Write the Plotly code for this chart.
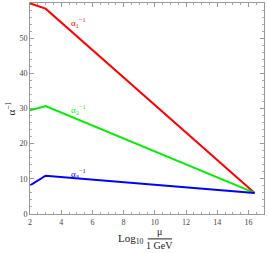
import plotly.graph_objects as go

log_mu = [2, 3, 16.4]
alpha1_inv = [59.9, 58.4, 6.0]
alpha2_inv = [29.5, 30.7, 6.0]
alpha3_inv = [8.1, 10.9, 6.0]
labels = ["α<sub>1</sub><sup>−1</sup>", "α<sub>2</sub><sup>−1</sup>", "α<sub>3</sub><sup>−1</sup>"]
label_pos = [(5.1, 54.5), (5.1, 29.8), (5.1, 11.6)]
colors = ["#ff0000", "#00ee00", "#0000ff"]

fig = go.Figure()
for ys, c in zip([alpha1_inv, alpha2_inv, alpha3_inv], colors):
    fig.add_trace(go.Scatter(x=log_mu, y=ys, mode="lines", line=dict(color=c, width=2), showlegend=False))

for (lx, ly), t, c in zip(label_pos, labels, colors):
    fig.add_annotation(x=lx, y=ly, text=t, showarrow=False, font=dict(color=c, size=9, family="Liberation Serif"))

axis_common = dict(
    showgrid=False, zeroline=False, showline=True, linecolor="#999999", linewidth=1,
    mirror="allticks", ticks="inside", ticklen=4, tickcolor="#999999", automargin=False,
    tickfont=dict(size=8, color="#444444", family="Liberation Serif"),
)
fig.update_xaxes(range=[2, 17], tickvals=[2, 4, 6, 8, 10, 12, 14, 16],
                 minor=dict(dtick=0.5, tick0=0, ticklen=2, tickcolor="#aaaaaa", ticks="inside"),
                 **axis_common)
fig.update_yaxes(range=[0, 60], tickvals=[0, 10, 20, 30, 40, 50, 60],
                 minor=dict(dtick=2, tick0=0, ticklen=2, tickcolor="#aaaaaa", ticks="inside"),
                 **axis_common)

# y-axis title
fig.add_annotation(xref="paper", yref="paper", x=-0.085, y=0.5, text="α<sup>−1</sup>", textangle=-90,
                   showarrow=False, font=dict(size=11, family="Liberation Serif", color="#222222"),
                   xanchor="center", yanchor="middle")
# x-axis title as fraction
fig.add_annotation(xref="paper", yref="paper", x=0.497, y=-0.118, text="Log<sub>10</sub>", showarrow=False,
                   xanchor="right", yanchor="middle", font=dict(size=11, family="Liberation Serif", color="#222222"))
fig.add_annotation(xref="paper", yref="paper", x=0.555, y=-0.083, text="μ", showarrow=False,
                   xanchor="center", yanchor="middle", font=dict(size=10, family="Liberation Serif", color="#222222"))
fig.add_annotation(xref="paper", yref="paper", x=0.555, y=-0.150, text="1 GeV", showarrow=False,
                   xanchor="center", yanchor="middle", font=dict(size=10, family="Liberation Serif", color="#222222"))
fig.add_shape(type="line", xref="paper", yref="paper", x0=0.503, x1=0.607, y0=-0.118, y1=-0.118,
              line=dict(color="#222222", width=1))

fig.update_layout(width=268, height=253, margin=dict(l=30, r=4, t=3, b=39),
                  plot_bgcolor="white", paper_bgcolor="white")
fig.write_html("out.html", config={"displayModeBar": False},
               post_script="document.body.style.margin='0';document.body.style.overflow='hidden';")
